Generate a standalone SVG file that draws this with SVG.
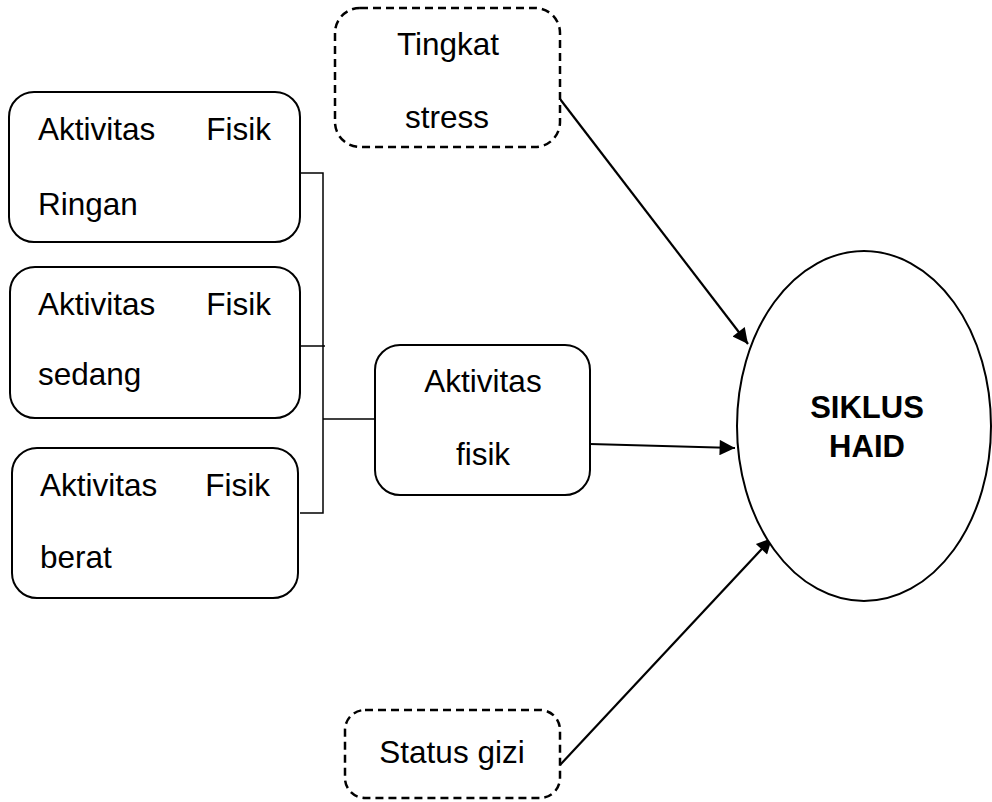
<svg xmlns="http://www.w3.org/2000/svg" width="992" height="802" viewBox="0 0 992 802">
<defs>
<style>
.box{fill:#fff;stroke:#000;stroke-width:2}
.dash{fill:#fff;stroke:#000;stroke-width:2.5;stroke-dasharray:8 5}
.t{font-family:"Liberation Sans",Arial,sans-serif;font-size:31.5px;fill:#000}
.b{font-family:"Liberation Sans",Arial,sans-serif;font-size:31px;font-weight:bold;fill:#000}
.c{text-anchor:middle}
.e{text-anchor:end}
.ln{fill:none;stroke:#000;stroke-width:1.5}
.ar{fill:none;stroke:#000;stroke-width:2.2}
</style>
<marker id="ah" viewBox="0 0 10 10" refX="10" refY="5" markerWidth="8" markerHeight="7" markerUnits="strokeWidth" orient="auto">
<path d="M0,0 L10,5 L0,10 z" fill="#000"/>
</marker>
</defs>
<g id="connectors">
<polyline class="ln" points="300,173 323,173 323,513 300,513"/>
<line class="ln" x1="300" y1="346" x2="325" y2="346"/>
<line class="ln" x1="323" y1="419" x2="375" y2="419"/>
<line class="ar" x1="560" y1="99" x2="748" y2="344" marker-end="url(#ah)"/>
<line class="ar" x1="590" y1="444" x2="735" y2="448" marker-end="url(#ah)"/>
<line class="ar" x1="560" y1="765" x2="772" y2="538" marker-end="url(#ah)"/>
</g>
<g id="ringan">
<rect class="box" x="9" y="92" width="291" height="150" rx="25"/>
<text class="t" x="38" y="140">Aktivitas</text>
<text class="t e" x="271" y="140">Fisik</text>
<text class="t" x="38" y="215">Ringan</text>
</g>
<g id="sedang">
<rect class="box" x="10" y="267" width="290" height="151" rx="25"/>
<text class="t" x="38" y="315">Aktivitas</text>
<text class="t e" x="271" y="315">Fisik</text>
<text class="t" x="38" y="385">sedang</text>
</g>
<g id="berat">
<rect class="box" x="12" y="448" width="286" height="150" rx="25"/>
<text class="t" x="40" y="496">Aktivitas</text>
<text class="t e" x="270" y="496">Fisik</text>
<text class="t" x="40" y="568">berat</text>
</g>
<g id="aktivitas-fisik">
<rect class="box" x="375" y="345" width="215" height="150" rx="25"/>
<text class="t c" x="483" y="392">Aktivitas</text>
<text class="t c" x="483" y="465">fisik</text>
</g>
<g id="tingkat-stress">
<rect class="dash" x="335" y="8" width="225" height="139" rx="25"/>
<text class="t c" x="448" y="55">Tingkat</text>
<text class="t c" x="447" y="128">stress</text>
</g>
<g id="status-gizi">
<rect class="dash" x="345" y="710" width="215" height="88" rx="20"/>
<text class="t c" x="452" y="763">Status gizi</text>
</g>
<g id="siklus-haid">
<ellipse class="box" cx="864" cy="426" rx="127" ry="175"/>
<text class="b c" x="867" y="418">SIKLUS</text>
<text class="b c" x="867" y="457">HAID</text>
</g>
</svg>
